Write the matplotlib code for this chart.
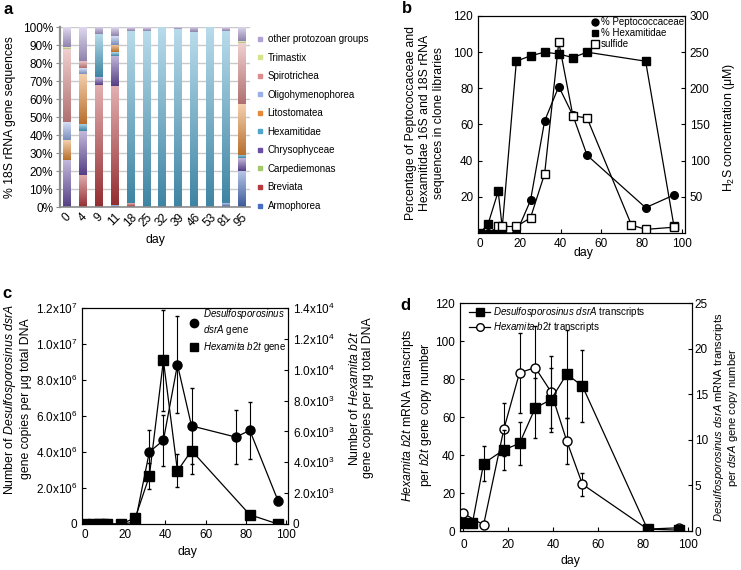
import matplotlib
matplotlib.use('Agg')
import matplotlib.pyplot as plt
import matplotlib.colors as mcolors
import numpy as np
from matplotlib.lines import Line2D

plt.rcParams['font.family'] = ['Liberation Sans', 'DejaVu Sans']
plt.rcParams['mathtext.fontset'] = 'custom'
plt.rcParams['mathtext.rm'] = 'Liberation Sans'
plt.rcParams['mathtext.it'] = 'Liberation Sans:italic'
plt.rcParams['mathtext.bf'] = 'Liberation Sans:bold'

# ---------------- data ----------------
# panel a: community composition (%)
days_a = ['0', '4', '9', '11', '18', '25', '32', '39', '46', '53', '81', '95']
categories = ['Armophorea', 'Breviata', 'Carpediemonas', 'Chrysophyceae', 'Hexamitidae',
              'Litostomatea', 'Oligohymenophorea', 'Spirotrichea', 'Trimastix',
              'other protozoan groups']
armophorea        = [0, 0, 0, 1, 0, 0, 0, 0, 0, 0, 2, 20]
breviata          = [0, 18, 68, 66, 2, 0, 0, 0, 0, 0, 0, 0]
carpediemonas     = [0, 0, 0, 0, 0, 0, 0, 0, 0, 0, 0, 0]
chrysophyceae     = [26, 24, 4, 17, 0, 0, 0, 0, 0, 0, 0, 7]
hexamitidae       = [0, 4, 24, 2, 96, 98, 100, 99, 97, 100, 96, 2]
litostomatea      = [11, 28, 0, 4, 0, 0, 0, 0, 0, 0, 0, 28]
oligohymenophorea = [10, 3, 0, 5, 0, 0, 0, 0, 0, 0, 0, 0]
spirotrichea      = [41, 4, 0, 0, 0, 0, 0, 0, 0, 0, 0, 34]
trimastix         = [1, 0, 0, 0, 0, 0, 0, 0, 0, 0, 0, 1]
other_groups      = [11, 19, 4, 5, 2, 2, 0, 1, 3, 0, 2, 8]

# panel b
days_pep = [0, 4, 7, 9, 11, 18, 25, 32, 39, 46, 53, 82, 96]
peptococcaceae = [0, 0, 0, 0, 0, 0, 18, 62, 81, 65, 43, 14, 21]
days_hex = [0, 4, 9, 11, 18, 25, 32, 39, 46, 53, 82, 96]
hexamitidae_pct = [0, 5, 23, 3, 95, 98, 100, 99, 97, 100, 95, 4]
days_sulf = [9, 11, 18, 25, 32, 39, 46, 53, 75, 82, 96]
sulfide = [9, 9, 9, 21, 82, 264, 162, 159, 11, 5, 8]

# panel c
days_dsr = [0, 4, 7, 9, 11, 18, 25, 32, 39, 46, 53, 75, 82, 96]
dsrA_gene = [0, 0, 0, 0, 0, 0, 0.1e6, 4.0e6, 4.65e6, 8.85e6, 5.45e6, 4.83e6, 5.2e6, 1.3e6]
dsrA_gene_err = [0, 0, 0, 0, 0, 0, 0.15e6, 1.25e6, 1.4e6, 2.7e6, 2.1e6, 1.5e6, 1.6e6, 0.25e6]
days_b2t = [0, 4, 7, 9, 11, 18, 25, 32, 39, 46, 53, 82, 96]
b2t_gene = [0, 0, 0, 0, 0, 0, 0.4e3, 3.1e3, 10.6e3, 3.44e3, 4.76e3, 0.6e3, 0]
b2t_gene_err = [0, 0, 0, 0, 0, 0, 0.2e3, 0.85e3, 3.3e3, 1.07e3, 1.55e3, 0, 0]

# panel d
days_dsr_tr = [0, 4, 9, 18, 25, 32, 39, 46, 53, 82, 96]
dsrA_tr = [0.83, 0.83, 7.4, 8.9, 9.6, 13.5, 14.4, 17.2, 15.9, 0.2, 0.1]
dsrA_tr_err = [0, 0, 1.9, 2.2, 2.4, 3.3, 3.5, 4.8, 4.0, 0, 0]
days_b2t_tr = [0, 9, 18, 25, 32, 39, 46, 53, 82, 96]
b2t_tr = [9.3, 3.2, 53.5, 83.3, 86, 73.3, 47.5, 24.6, 1, 1.7]
b2t_tr_err = [0, 0, 14, 21, 22, 19, 12, 6, 0, 0]

# ---------------- styling ----------------
cat_colors = ['#4a6fc0', '#b83a3e', '#a4c86a', '#6a4fa5', '#4ea6cc',
              '#e58a38', '#98afe8', '#dc8c8c', '#d4e48a', '#b2a3d6']
W, H = 741, 570
TICK = 8.5
LAB = 8.8

fig = plt.figure(figsize=(W / 100, H / 100), dpi=100)


def fax(l, t, r, b):
    return fig.add_axes([l / W, 1 - b / H, (r - l) / W, (b - t) / H])


def ftext(x, y, s, **kw):
    fig.text(x / W, 1 - y / H, s, **kw)


# ---------------- panel a ----------------
axa = fax(60, 27, 250, 207)
comp = [armophorea, breviata, carpediemonas, chrysophyceae, hexamitidae,
        litostomatea, oligohymenophorea, spirotrichea, trimastix, other_groups]
xa = np.arange(len(days_a))
bottoms = np.zeros(len(days_a))
bw = 0.46
grad = np.linspace(0, 1, 64)[:, None, None]
for vals, col in zip(comp, cat_colors):
    vals = np.asarray(vals, float)
    c = np.array(mcolors.to_rgb(col))
    dark = c * 0.8
    light = c + (1 - c) * 0.6
    img = dark * (1 - grad) + light * grad
    for i in range(len(xa)):
        if vals[i] <= 0:
            continue
        axa.imshow(img, extent=[xa[i] - bw / 2, xa[i] + bw / 2, bottoms[i], bottoms[i] + vals[i]],
                   origin='lower', aspect='auto', interpolation='bilinear', zorder=2)
    bottoms += vals
axa.set_xlim(-0.45, 11.55)
axa.set_ylim(0, 100)
axa.set_yticks(np.arange(0, 101, 10))
axa.set_yticklabels([f'{v}%' for v in range(0, 101, 10)], fontsize=TICK)
axa.set_xticks(xa)
axa.set_xticklabels(days_a, rotation=45, ha='center', va='top', fontsize=TICK)
axa.yaxis.grid(True, color='#c9c9c9', lw=1.0, zorder=0)
axa.set_axisbelow(True)
for s in ['top', 'right']:
    axa.spines[s].set_visible(False)
axa.spines['left'].set_color('#8c8c8c')
axa.spines['left'].set_linewidth(1.6)
axa.spines['bottom'].set_color('#8c8c8c')
axa.spines['bottom'].set_linewidth(1.2)
axa.tick_params(axis='y', length=3, color='#8c8c8c', pad=2)
axa.tick_params(axis='x', length=0, pad=3)
ftext(10, 117, '% 18S rRNA gene sequences', rotation=90, ha='center', va='center', fontsize=LAB)
ftext(155, 240, 'day', ha='center', va='center', fontsize=LAB)
handles = [Line2D([], [], ls='none', marker='s', ms=3.5, mfc=c, mec=c) for c in cat_colors]
leg = axa.legend(handles[::-1], categories[::-1], loc='upper left',
                 bbox_to_anchor=(256 / W, 1 - 34 / H), bbox_transform=fig.transFigure,
                 frameon=False, fontsize=7, handlelength=0.8, handletextpad=0.4,
                 labelspacing=0.88, borderpad=0, borderaxespad=0)
ftext(3, 2, 'a', fontsize=12, weight='bold', va='top', ha='left')

# ---------------- panel b ----------------
axb = fax(478, 16, 685, 233)
axb.plot(days_pep, peptococcaceae, 'o-', color='k', ms=5.5, lw=0.9, zorder=3)
axb.plot(days_hex, hexamitidae_pct, 's-', color='k', ms=5.5, lw=0.9, zorder=3)
axb.set_xlim(-1, 101.5)
axb.set_ylim(0, 120)
axb.set_yticks([20, 40, 60, 80, 100, 120])
axb.set_xticks([0, 20, 40, 60, 80, 100])
axb.tick_params(direction='in', labelsize=TICK, length=3)
axb2 = axb.twinx()
axb2.plot(days_sulf, sulfide, 's-', color='k', mfc='white', ms=6, lw=0.9, zorder=3)
axb2.set_ylim(0, 300)
axb2.set_yticks([50, 100, 150, 200, 250, 300])
axb2.tick_params(direction='in', labelsize=TICK, length=3)
hb = [Line2D([], [], ls='none', marker='o', color='k', ms=5),
      Line2D([], [], ls='none', marker='s', color='k', ms=5),
      Line2D([], [], ls='none', marker='s', color='k', mfc='white', ms=5.5)]
axb2.legend(hb, ['% Peptococcaceae', '% Hexamitidae', 'sulfide'], loc='upper right',
            bbox_to_anchor=(684 / W, 1 - 17 / H), bbox_transform=fig.transFigure,
            frameon=False, fontsize=7, handlelength=0.6, handletextpad=0.3,
            labelspacing=0.1, borderpad=0, borderaxespad=0)
ftext(425, 123, 'Percentage of Peptococcaceae and\nHexamitidae 16S and 18S rRNA\nsequences in clone libraries',
      rotation=90, ha='center', va='center', fontsize=LAB, multialignment='center')
ftext(729, 127, 'H$_2$S concentration (μM)', rotation=90, ha='center', va='center', fontsize=LAB)
ftext(583, 253, 'day', ha='center', va='center', fontsize=LAB)
ftext(402, 1, 'b', fontsize=12, weight='bold', va='top', ha='left')

# ---------------- panel c ----------------
axc = fax(82, 308, 288, 524)
axc.errorbar(days_dsr, dsrA_gene, yerr=dsrA_gene_err, fmt='o-', color='k', ms=6.5, lw=0.9,
             elinewidth=0.8, capsize=1.5, zorder=3)
axc.set_xlim(-1.5, 101)
axc.set_ylim(0, 1.2e7)
axc.set_yticks(np.arange(0, 1.21e7, 2e6))
axc.set_yticklabels(['0', r'2.0x10$^6$', r'4.0x10$^6$', r'6.0x10$^6$', r'8.0x10$^6$',
                     r'1.0x10$^7$', r'1.2x10$^7$'])
axc.set_xticks([0, 20, 40, 60, 80, 100])
axc.tick_params(direction='in', labelsize=TICK, length=3)
axc2 = axc.twinx()
axc2.errorbar(days_b2t, b2t_gene, yerr=b2t_gene_err, fmt='s-', color='k', ms=6.5, lw=0.9,
              elinewidth=0.8, capsize=1.5, zorder=3)
axc2.set_ylim(0, 1.4e4)
axc2.set_yticks(np.arange(0, 1.41e4, 2e3))
axc2.set_yticklabels(['0', r'2.0x10$^3$', r'4.0x10$^3$', r'6.0x10$^3$', r'8.0x10$^3$',
                      r'1.0x10$^4$', r'1.2x10$^4$', r'1.4x10$^4$'])
axc2.tick_params(direction='in', labelsize=TICK, length=3)
hc = [Line2D([], [], ls='none', marker='o', color='k', ms=6),
      Line2D([], [], ls='none', marker='s', color='k', ms=6)]
axc2.legend(hc, ['$\\mathit{Desulfosporosinus}$\n$\\mathit{dsrA}$ gene', '$\\mathit{Hexamita\\ b2t}$ gene'],
            loc='upper right', bbox_to_anchor=(286 / W, 1 - 307 / H), bbox_transform=fig.transFigure,
            frameon=False, fontsize=7, handlelength=0.8, handletextpad=0.5,
            labelspacing=0.3, borderpad=0, borderaxespad=0)
ftext(17, 399, 'Number of $\\mathit{Desulfosporosinus\\ dsrA}$\ngene copies per μg total DNA',
      rotation=90, ha='center', va='center', fontsize=LAB, multialignment='center')
ftext(361, 398, 'Number of $\\mathit{Hexamita\\ b2t}$\ngene copies per μg total DNA',
      rotation=90, ha='center', va='center', fontsize=LAB, multialignment='center')
ftext(187, 552, 'day', ha='center', va='center', fontsize=LAB)
ftext(2, 286, 'c', fontsize=12, weight='bold', va='top', ha='left')

# ---------------- panel d ----------------
axd = fax(460, 303, 692, 531)
axd.errorbar(days_b2t_tr, b2t_tr, yerr=b2t_tr_err, fmt='o-', color='k', mfc='white', ms=6.5,
             lw=0.9, elinewidth=0.8, capsize=1.5, zorder=3)
axd.set_xlim(-1.5, 101.8)
axd.set_ylim(0, 120)
axd.set_yticks(np.arange(0, 121, 20))
axd.set_xticks([0, 20, 40, 60, 80, 100])
axd.tick_params(direction='in', labelsize=TICK, length=3)
axd.tick_params(axis='x', pad=6)
axd2 = axd.twinx()
axd2.errorbar(days_dsr_tr, dsrA_tr, yerr=dsrA_tr_err, fmt='s-', color='k', ms=6.5,
              lw=0.9, elinewidth=0.8, capsize=1.5, zorder=3)
axd2.set_ylim(0, 25)
axd2.set_yticks(np.arange(0, 26, 5))
axd2.tick_params(direction='in', labelsize=TICK, length=3, pad=2)
hd = [Line2D([], [], ls='-', lw=0.9, marker='s', color='k', ms=5.5),
      Line2D([], [], ls='-', lw=0.9, marker='o', color='k', mfc='white', ms=5.5)]
axd2.legend(hd, ['$\\mathit{Desulfosporosinus\\ dsrA}$ transcripts', '$\\mathit{Hexamita\\ b2t}$ transcripts'],
            loc='upper left', bbox_to_anchor=(469 / W, 1 - 305 / H), bbox_transform=fig.transFigure,
            frameon=False, fontsize=7, handlelength=2.2, handletextpad=0.3,
            labelspacing=0.15, borderpad=0, borderaxespad=0)
ftext(417, 415, '$\\mathit{Hexamita\\ b2t}$ mRNA transcripts\nper $\\mathit{b2t}$ gene copy number',
      rotation=90, ha='center', va='center', fontsize=LAB, multialignment='center')
ftext(726, 417, '$\\mathit{Desulfosporosinus\\ dsrA}$ mRNA transcripts\nper $\\mathit{dsrA}$ gene copy number',
      rotation=90, ha='center', va='center', fontsize=8.0, multialignment='center', linespacing=1.0)
ftext(570, 561, 'day', ha='center', va='center', fontsize=LAB)
ftext(400, 298, 'd', fontsize=12, weight='bold', va='top', ha='left')

fig.savefig('out.png', dpi=100)
